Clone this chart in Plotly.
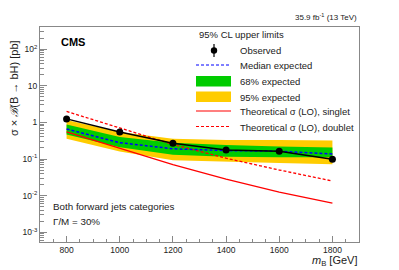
import plotly.graph_objects as go

# ---------------- data ----------------
mass = [800, 1000, 1200, 1400, 1600, 1800]
observed = [1.25, 0.55, 0.27, 0.175, 0.164, 0.098]
expected = [0.66, 0.28, 0.19, 0.17, 0.163, 0.138]
exp68_lo = [0.47, 0.21, 0.13, 0.115, 0.112, 0.112]
exp68_hi = [0.88, 0.40, 0.28, 0.24, 0.22, 0.205]
exp95_lo = [0.36, 0.16, 0.093, 0.084, 0.078, 0.072]
exp95_hi = [1.16, 0.55, 0.36, 0.33, 0.33, 0.32]
theory_singlet = [0.55, 0.20, 0.07, 0.028, 0.0125, 0.0062]
theory_doublet = [2.0, 0.70, 0.25, 0.105, 0.05, 0.025]

y_tickvals = [1e-3, 1e-2, 1e-1, 1, 10, 100]
y_ticktext = ["10<sup>-3</sup>", "10<sup>-2</sup>", "10<sup>-1</sup>", "1", "10", "10<sup>2</sup>"]

legend_labels = ["Observed", "Median expected", "68% expected", "95% expected",
                 "Theoretical σ (LO), singlet", "Theoretical σ (LO), doublet"]

YELLOW = "#FFCC00"
GREEN = "#00CC00"
FONT = "Liberation Sans, Arial, sans-serif"
TXT = "#222222"

W, H = 399, 270
L, R, T, B = 40, 40, 27, 28
PW, PH = W - L - R, H - T - B


def px(x):
    return (x - L) / PW


def py(y):
    return (H - B - y) / PH


fig = go.Figure()

# 95% band
fig.add_trace(go.Scatter(x=mass, y=exp95_lo, mode="lines", line=dict(width=0),
                         showlegend=False, hoverinfo="skip"))
fig.add_trace(go.Scatter(x=mass, y=exp95_hi, mode="lines", line=dict(width=0),
                         fill="tonexty", fillcolor=YELLOW, showlegend=False))
# 68% band
fig.add_trace(go.Scatter(x=mass, y=exp68_lo, mode="lines", line=dict(width=0),
                         showlegend=False, hoverinfo="skip"))
fig.add_trace(go.Scatter(x=mass, y=exp68_hi, mode="lines", line=dict(width=0),
                         fill="tonexty", fillcolor=GREEN, showlegend=False))
# theory
fig.add_trace(go.Scatter(x=mass, y=theory_singlet, mode="lines",
                         line=dict(color="#FF0000", width=1.3), showlegend=False))
fig.add_trace(go.Scatter(x=mass, y=theory_doublet, mode="lines",
                         line=dict(color="#FF0000", width=1.3, dash="3px,2px"), showlegend=False))
# median expected
fig.add_trace(go.Scatter(x=mass, y=expected, mode="lines",
                         line=dict(color="#0000FF", width=1.5, dash="3px,2px"), showlegend=False))
# observed
fig.add_trace(go.Scatter(x=mass, y=observed, mode="lines+markers",
                         line=dict(color="black", width=1.5),
                         marker=dict(color="black", size=7), showlegend=False))

shapes = []
annotations = []

# ---- manual legend ----
annotations.append(dict(x=px(197), y=py(34), xref="paper", yref="paper", text="95% CL upper limits",
                        showarrow=False, xanchor="left", yanchor="middle",
                        font=dict(family=FONT, size=9.5, color=TXT)))
lx0, lx1 = px(196), px(231)
# observed symbol
shapes.append(dict(type="line", xref="paper", yref="paper", x0=px(214), x1=px(214),
                   y0=py(44), y1=py(57), line=dict(color="black", width=1.2)))
shapes.append(dict(type="circle", xref="paper", yref="paper", x0=px(210.8), x1=px(217.2),
                   y0=py(47.3), y1=py(53.7), fillcolor="black", line=dict(color="black", width=0)))
# median
shapes.append(dict(type="line", xref="paper", yref="paper", x0=lx0, x1=lx1, y0=py(65), y1=py(65),
                   line=dict(color="#0000FF", width=1.2, dash="3px,2px")))
# 68
shapes.append(dict(type="rect", xref="paper", yref="paper", x0=lx0, x1=lx1, y0=py(86.5), y1=py(76),
                   fillcolor=GREEN, line=dict(width=0)))
# 95
shapes.append(dict(type="rect", xref="paper", yref="paper", x0=lx0, x1=lx1, y0=py(102), y1=py(91.5),
                   fillcolor=YELLOW, line=dict(width=0)))
# singlet
shapes.append(dict(type="line", xref="paper", yref="paper", x0=lx0, x1=lx1, y0=py(111), y1=py(111),
                   line=dict(color="#FF0000", width=1.2)))
# doublet
shapes.append(dict(type="line", xref="paper", yref="paper", x0=lx0, x1=lx1, y0=py(126.5), y1=py(126.5),
                   line=dict(color="#FF0000", width=1.2, dash="3px,2px")))

for lab, yc in zip(legend_labels, [50, 65, 81, 97, 111.5, 127]):
    annotations.append(dict(x=px(237.5), y=py(yc), xref="paper", yref="paper", text=lab,
                            showarrow=False, xanchor="left", yanchor="middle",
                            font=dict(family=FONT, size=9.5, color=TXT)))

# ---- other texts ----
annotations.append(dict(x=px(359), y=py(17), xref="paper", yref="paper",
                        text="35.9 fb<sup>-1</sup> (13 TeV)", showarrow=False,
                        xanchor="right", yanchor="middle", font=dict(family=FONT, size=8, color=TXT)))
annotations.append(dict(x=px(59), y=py(42), xref="paper", yref="paper", text="<b>CMS</b>",
                        showarrow=False, xanchor="left", yanchor="middle",
                        font=dict(family=FONT, size=11, color="black")))
annotations.append(dict(x=px(51), y=py(206.5), xref="paper", yref="paper",
                        text="Both forward jets categories", showarrow=False,
                        xanchor="left", yanchor="middle", font=dict(family=FONT, size=9.8, color=TXT)))
annotations.append(dict(x=px(51), y=py(221), xref="paper", yref="paper",
                        text="Γ/M = 30%", showarrow=False,
                        xanchor="left", yanchor="middle", font=dict(family=FONT, size=9.8, color=TXT)))
annotations.append(dict(x=px(360), y=py(261), xref="paper", yref="paper",
                        text="<i>m</i><sub>B</sub> [GeV]", showarrow=False,
                        xanchor="right", yanchor="middle", font=dict(family=FONT, size=11, color=TXT)))
annotations.append(dict(x=px(14), y=py(88), xref="paper", yref="paper",
                        text="σ × <i>ℬ</i>(B → bH) [pb]", showarrow=False, textangle=-90,
                        xanchor="center", yanchor="middle", font=dict(family=FONT, size=11, color=TXT)))

minor_y = [m * 10 ** e for e in range(-4, 3) for m in range(2, 10)]

fig.update_layout(
    width=W, height=H,
    margin=dict(l=L, r=R, t=T, b=B),
    paper_bgcolor="white", plot_bgcolor="white",
    showlegend=False,
    shapes=shapes, annotations=annotations,
    font=dict(family=FONT, color=TXT),
    xaxis=dict(range=[700, 1900], tickmode="linear", tick0=800, dtick=200,
               ticks="inside", ticklen=6, tickcolor="#888", showgrid=False, zeroline=False,
               showline=True, linecolor="#888", linewidth=1, mirror=True,
               tickfont=dict(family=FONT, size=8.5, color=TXT),
               minor=dict(dtick=50, tick0=700, ticks="inside", ticklen=3, tickcolor="#888", showgrid=False)),
    yaxis=dict(type="log", range=[-3.27, 2.61], tickmode="array", tickvals=y_tickvals, ticktext=y_ticktext,
               ticks="inside", ticklen=7, tickcolor="#888", showgrid=False, zeroline=False,
               showline=True, linecolor="#888", linewidth=1, mirror=True,
               tickfont=dict(family=FONT, size=8.5, color=TXT),
               minor=dict(tickmode="array", tickvals=minor_y, ticks="inside", ticklen=3.5,
                          tickcolor="#888", showgrid=False)),
)

fig.write_html(
    "out.html",
    config={"displayModeBar": False},
    post_script="document.body.style.margin='0px';document.body.style.overflow='hidden';",
)
